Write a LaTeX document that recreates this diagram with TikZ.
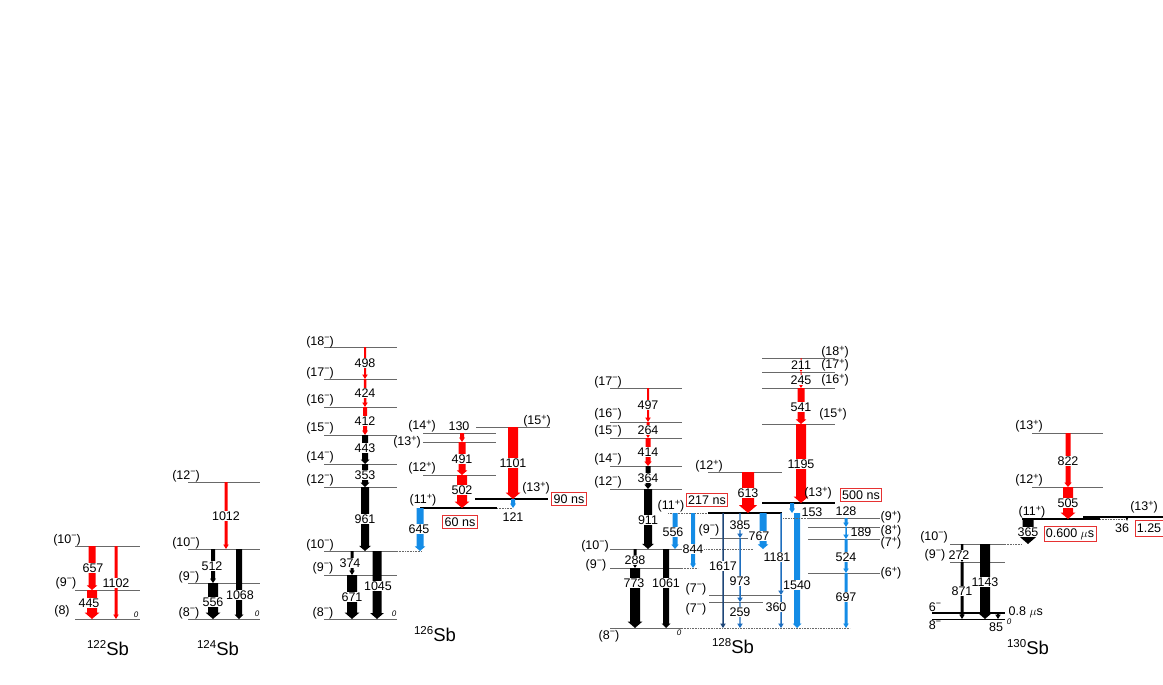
\documentclass[tikz,border=0pt]{standalone}
\usepackage{fontspec}
\setmainfont{Liberation Sans}
\definecolor{gred}{RGB}{255,0,0}
\definecolor{gblue}{RGB}{20,140,230}
\definecolor{gnavy}{RGB}{30,70,120}
\definecolor{gbmid}{RGB}{30,110,190}
\definecolor{lvgray}{RGB}{105,105,105}
\definecolor{boxred}{RGB}{230,50,50}
\newcounter{gnn}
\newcommand{\gmi}{\raisebox{4.5pt}{\fontsize{9}{10}\selectfont −}}
\newcommand{\gpl}{\raisebox{4.5pt}{\fontsize{9}{10}\selectfont +}}
\newcommand{\gnuc}[1]{\raisebox{7pt}{\fontsize{11.5}{12}\selectfont #1}\fontsize{18.5}{20}\selectfont Sb}
% arrow: x, ytop, ybot, width, colour
\newcommand{\gam}[5]{%
  \pgfmathsetmacro{\gHW}{max(#4*0.75,2.8)}%
  \pgfmathsetmacro{\gHH}{max(#4*0.65,4.5)}%
  \fill[#5] ({#1-#4/2},#2) -- ({#1+#4/2},#2) -- ({#1+#4/2},{#3-\gHH}) -- ({#1+\gHW},{#3-\gHH}) -- (#1,#3) -- ({#1-\gHW},{#3-\gHH}) -- ({#1-#4/2},{#3-\gHH}) -- cycle;}
% transition label (white background)
\newcommand{\gtl}[3]{\stepcounter{gnn}\node[tlab] (t\arabic{gnn}) at (#1,#2) {#3};}
% plain label
\newcommand{\gll}[3]{\stepcounter{gnn}\node[llab] (l\arabic{gnn}) at (#1,#2) {#3};}
\begin{document}
\begin{tikzpicture}[x=1pt,y=-1pt,
  lvl/.style={draw=lvgray,line width=0.6pt},
  tlv/.style={draw=black,line width=1.8pt},
  dlv/.style={draw=lvgray,densely dotted,line width=0.6pt},
  llab/.style={font=\fontsize{12.5}{14}\selectfont,inner sep=0.5pt},
  tlab/.style={llab,fill=white},
  zlab/.style={font=\fontsize{8}{9}\selectfont\itshape,inner sep=0pt},
  nbox/.style={draw=boxred,line width=0.8pt,fill=white,font=\fontsize{12.5}{14}\selectfont,inner sep=2pt},
  nucl/.style={inner sep=0pt}]
\useasboundingbox (0,0) rectangle (1163,685);

% ================= 122Sb =================
\draw[lvl] (75,546) -- (140,546);
\draw[lvl] (75,590) -- (140,590);
\draw[lvl] (75,619) -- (140,619);
\gll{67}{540}{(10\gmi)}
\gll{66}{583}{(9\gmi)}
\gll{62}{611}{(8)}
\gam{92}{546}{590}{7}{gred}
\gam{92}{590}{619}{10}{gred}
\gam{116}{546}{619}{3}{gred}
\gtl{93}{568}{657}
\gtl{89}{603}{445}
\gtl{116}{583}{1102}
\node[zlab] (z122) at (136,615) {0};
\node[nucl] (n122) at (108,648) {\gnuc{122}};

% ================= 124Sb =================
\draw[lvl] (188,482) -- (260,482);
\draw[lvl] (188,549) -- (260,549);
\draw[lvl] (188,583) -- (260,583);
\draw[lvl] (188,619) -- (260,619);
\gll{186}{476}{(12\gmi)}
\gll{186}{543}{(10\gmi)}
\gll{189}{577}{(9\gmi)}
\gll{189}{613}{(8\gmi)}
\gam{226}{482}{549}{3}{gred}
\gam{213}{549}{583}{4}{black}
\gam{213}{583}{619}{10}{black}
\gam{239}{549}{619}{6}{black}
\gtl{226}{516}{1012}
\gtl{212}{566}{512}
\gtl{213}{602}{556}
\gtl{240}{595}{1068}
\node[zlab] (z124) at (257,614) {0};
\node[nucl] (n124) at (218,648) {\gnuc{124}};

% ================= 126Sb =================
\foreach \yy in {347,379,407,435,464,487,551,575,619} {\draw[lvl] (324,\yy) -- (397,\yy);}
\draw[dlv] (397,551) -- (422,551);
\gll{320}{342}{(18\gmi)}
\gll{320}{373}{(17\gmi)}
\gll{320}{400}{(16\gmi)}
\gll{320}{428}{(15\gmi)}
\gll{320}{457}{(14\gmi)}
\gll{320}{480}{(12\gmi)}
\gll{320}{545}{(10\gmi)}
\gll{323}{568}{(9\gmi)}
\gll{323}{613}{(8\gmi)}
\gam{365}{347}{379}{2}{gred}
\gam{365}{379}{407}{2.5}{gred}
\gam{365}{407}{435}{4}{gred}
\gam{365}{435}{464}{6}{black}
\gam{365}{464}{487}{6}{black}
\gam{365}{487}{551}{8}{black}
\gam{352}{551}{575}{3}{black}
\gam{352}{575}{619}{10}{black}
\gam{377}{551}{619}{9}{black}
\gtl{365}{363}{498}
\gtl{365}{393}{424}
\gtl{365}{421}{412}
\gtl{365}{448}{443}
\gtl{365}{475}{353}
\gtl{365}{519}{961}
\gtl{350}{563}{374}
\gtl{352}{597}{671}
\gtl{378}{586}{1045}
\node[zlab] (z126) at (394,614) {0};
% positive-parity part
\draw[lvl] (423,433) -- (496,433);
\draw[lvl] (423,442) -- (496,442);
\draw[lvl] (423,475) -- (496,475);
\draw[lvl] (476,427) -- (550,427);
\draw[tlv] (420,508) -- (497,508);
\draw[dlv] (497,508) -- (512,508);
\draw[tlv] (475,499) -- (548,499);
\gll{422}{426}{(14\gpl)}
\gll{407}{442}{(13\gpl)}
\gll{422}{468}{(12\gpl)}
\gll{423}{500}{(11\gpl)}
\gll{536}{488}{(13\gpl)}
\gll{537}{421}{(15\gpl)}
\gam{462}{433}{442}{4}{gred}
\gam{462}{442}{475}{7}{gred}
\gam{462}{475}{508}{10}{gred}
\gam{513}{427}{499}{10}{gred}
\gam{513}{499}{508}{4}{gblue}
\gam{420}{508}{551}{7}{gblue}
\gll{459}{426}{130}
\gtl{462}{459}{491}
\gtl{462}{490}{502}
\gtl{513}{463}{1101}
\gll{513}{517}{121}
\gtl{419}{529}{645}
\node[nbox] (b60) at (460,522) {60 ns};
\node[nbox] (b90) at (569,499) {90 ns};
\node[nucl] (n126) at (435,634) {\gnuc{126}};

% ================= 128Sb =================
\foreach \yy in {388,422,438,466,489,549,568,628} {\draw[lvl] (610,\yy) -- (682,\yy);}
\draw[dlv] (682,549) -- (753,549);
\draw[dlv] (682,568) -- (698,568);
\draw[dlv] (682,628) -- (850,628);
\draw[dlv] (668,513) -- (708,513);
\gll{608}{382}{(17\gmi)}
\gll{608}{414}{(16\gmi)}
\gll{608}{431}{(15\gmi)}
\gll{608}{459}{(14\gmi)}
\gll{608}{482}{(12\gmi)}
\gll{595}{546}{(10\gmi)}
\gll{596}{565}{(9\gmi)}
\gll{609}{636}{(8\gmi)}
\gll{671}{506}{(11\gpl)}
\gam{648}{388}{422}{2}{gred}
\gam{648}{422}{438}{3}{gred}
\gam{648}{438}{466}{5}{gred}
\gam{648}{466}{489}{5}{black}
\gam{648}{489}{549}{8}{black}
\gam{635}{549}{568}{3}{black}
\gam{635}{568}{628}{10}{black}
\gam{666}{549}{628}{6}{black}
\gam{675}{513}{549}{5}{gblue}
\gam{693}{513}{568}{4}{gblue}
\gtl{648}{405}{497}
\gtl{648}{430}{264}
\gtl{648}{452}{414}
\gtl{648}{478}{364}
\gtl{648}{520}{911}
\gtl{635}{560}{288}
\gtl{634}{583}{773}
\gtl{666}{583}{1061}
\gtl{673}{532}{556}
\gtl{693}{549}{844}
\node[zlab] (z128) at (679,633) {0};
% middle
\draw[lvl] (708,472) -- (782,472);
\draw[lvl] (710,538) -- (753,538);
\draw[lvl] (709,595) -- (782,595);
\draw[lvl] (709,602) -- (763,602);
\draw[tlv] (708,513) -- (782,513);
\draw[tlv] (762,503) -- (835,503);
\gll{709}{466}{(12\gpl)}
\gll{709}{530}{(9\gmi)}
\gll{696}{589}{(7\gmi)}
\gll{696}{609}{(7\gmi)}
\gam{748}{472}{513}{12}{gred}
\gam{723}{513}{628}{1.5}{gnavy}
\gam{740}{513}{538}{1.2}{gbmid}
\gam{740}{538}{602}{1.5}{gbmid}
\gam{740}{602}{628}{1.2}{gbmid}
\gam{763}{513}{549}{7}{gblue}
\gam{781}{513}{595}{1.5}{gbmid}
\gam{781}{595}{628}{1.5}{gbmid}
\gam{792}{503}{513}{4}{gblue}
\gam{797}{513}{628}{6}{gblue}
\gtl{748}{493}{613}
\gtl{723}{566}{1617}
\gtl{740}{525}{385}
\gtl{740}{581}{973}
\gtl{740}{612}{259}
\gtl{759}{536}{767}
\gtl{777}{557}{1181}
\gtl{776}{607}{360}
\gtl{797}{585}{1540}
\gll{812}{512}{153}
\node[nbox] (b217) at (707,500) {217 ns};
% upper right
\draw[lvl] (762,358) -- (835,358);
\draw[lvl] (762,372) -- (835,372);
\draw[lvl] (762,388) -- (835,388);
\draw[lvl] (762,424) -- (835,424);
\gll{835}{352}{(18\gpl)}
\gll{835}{365}{(17\gpl)}
\gll{835}{380}{(16\gpl)}
\gll{833}{414}{(15\gpl)}
\gam{801}{358}{372}{1}{gred}
\gam{801}{372}{388}{1}{gred}
\gam{801}{388}{424}{7}{gred}
\gam{801}{424}{503}{10}{gred}
\gtl{801}{365}{211}
\gtl{801}{380}{245}
\gtl{801}{407}{541}
\gtl{801}{464}{1195}
\gll{818}{493}{(13\gpl)}
\node[nbox] (b500) at (861,495) {500 ns};
% positive-parity band
\draw[dlv] (783,518) -- (808,518);
\draw[lvl] (808,518) -- (880,518);
\draw[lvl] (808,527) -- (880,527);
\draw[lvl] (808,539) -- (880,539);
\draw[lvl] (808,573) -- (880,573);
\gll{891}{517}{(9\gpl)}
\gll{891}{531}{(8\gpl)}
\gll{891}{543}{(7\gpl)}
\gll{891}{573}{(6\gpl)}
\gam{846}{518}{527}{3}{gblue}
\gam{846}{527}{539}{1.5}{gblue}
\gam{846}{539}{573}{3}{gblue}
\gam{846}{573}{628}{3}{gblue}
\gll{846}{511}{128}
\gll{861}{532}{189}
\gtl{846}{557}{524}
\gtl{846}{597}{697}
\node[nucl] (n128) at (733,646) {\gnuc{128}};

% ================= 130Sb =================
\draw[lvl] (1032,433) -- (1103,433);
\draw[lvl] (1032,487) -- (1103,487);
\draw[dlv] (1100,519) -- (1127,519);
\draw[tlv] (1022,519) -- (1100,519);
\draw[tlv] (1083,517) -- (1170,517);
\gll{1029}{426}{(13\gpl)}
\gll{1029}{480}{(12\gpl)}
\gll{1032}{512}{(11\gpl)}
\gll{1144}{507}{(13\gpl)}
\gam{1068}{433}{487}{5}{gred}
\gam{1068}{487}{519}{10}{gred}
\gtl{1068}{461}{822}
\gtl{1068}{503}{505}
\node[nbox] (b600) at (1070,534) {0.600 $\mu$s};
\gll{1122}{528}{36}
\fill[black] (1125.5,517) -- (1128.5,517) -- (1127,521) -- cycle;
\draw[boxred,line width=0.8pt,fill=white] (1135,520) rectangle (1175,536);
\gll{1149}{528}{1.25}
\gam{1028}{519}{544}{11}{black}
\gtl{1028}{532}{365}
\draw[lvl] (950,544) -- (1005,544);
\draw[dlv] (1005,544) -- (1022,544);
\draw[lvl] (950,562) -- (1005,562);
\draw[tlv] (932,613) -- (1005,613);
\draw[draw=black,line width=0.8pt] (932,619) -- (1005,619);
\gll{934}{537}{(10\gmi)}
\gll{935}{555}{(9\gmi)}
\gll{935}{607}{6\gmi}
\gll{935}{625}{8\gmi}
\gam{962}{544}{562}{2.5}{black}
\gam{962}{562}{619}{3}{black}
\gam{985}{544}{619}{10}{black}
\gam{998}{613}{619}{2}{black}
\gtl{959}{555}{272}
\gtl{962}{591}{871}
\gtl{985}{582}{1143}
\gll{996}{627}{85}
\node[zlab] (z130) at (1009,622) {0};
\node[llab,anchor=west] (t08) at (1008,612) {0.8 $\mu$s};
\node[nucl] (n130) at (1028,647) {\gnuc{130}};
\end{tikzpicture}
\end{document}
